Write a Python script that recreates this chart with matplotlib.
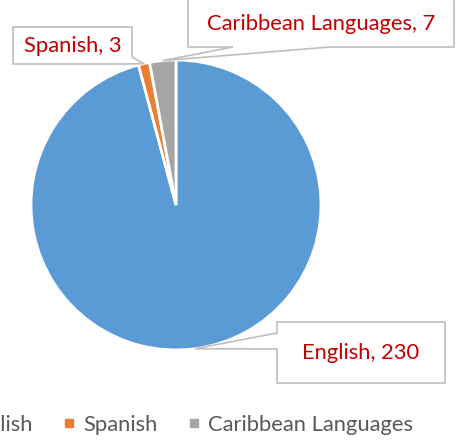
import numpy as np
import matplotlib
matplotlib.use("Agg")
import matplotlib.pyplot as plt
from matplotlib.patches import Polygon
from matplotlib.lines import Line2D

# data
languages = ["English", "Spanish", "Caribbean Languages"]
speakers = [230, 3, 7]
colors = ["#5B9BD5", "#ED7D31", "#A5A5A5"]

W, H = 457, 440
plt.rcParams['font.family'] = ['Lato', 'DejaVu Sans']

fig = plt.figure(figsize=(W / 100, H / 100), dpi=100)

# pie placed in pixel terms (y measured from top of image)
cx, cy, r = 176, 205, 145
ax = fig.add_axes([(cx - r) / W, (H - cy - r) / H, 2 * r / W, 2 * r / H])
wedges, _ = ax.pie(speakers, colors=colors, startangle=90, counterclock=False,
                   radius=1, wedgeprops=dict(edgecolor="white", linewidth=2))
ax.set_xlim(-1, 1)
ax.set_ylim(-1, 1)
ax.axis("off")


def img2fig(x, y):
    return (x / W, 1 - y / H)


def slice_tip(w):
    mid = np.deg2rad((w.theta1 + w.theta2) / 2)
    p = ax.transData.transform((np.cos(mid) * w.r, np.sin(mid) * w.r))
    return fig.transFigure.inverted().transform(p)


# callout boxes: (left, top, right, bottom) in image px, and where the pointer
# leaves the box outline
boxes = {
    "English": dict(box=(277, 322, 445, 383), side="left", base=(349, 333)),
    "Spanish": dict(box=(13, 27, 132, 64), side="corner", base=(57, 128)),
    "Caribbean Languages": dict(box=(188, -5, 454, 47), side="bottom", base=(330, 233)),
}

for w, name, val in zip(wedges, languages, speakers):
    b = boxes[name]
    x0, y0, x1, y1 = b["box"]
    tip = slice_tip(w)
    if b["side"] == "bottom":
        pts = [img2fig(x0, y0), img2fig(x1, y0), img2fig(x1, y1),
               img2fig(b["base"][0], y1), tip, img2fig(b["base"][1], y1),
               img2fig(x0, y1)]
    elif b["side"] == "left":
        pts = [img2fig(x0, y0), img2fig(x1, y0), img2fig(x1, y1),
               img2fig(x0, y1), img2fig(x0, b["base"][0]), tip,
               img2fig(x0, b["base"][1])]
    else:
        pts = [img2fig(x0, y0), img2fig(x1, y0), img2fig(x1, b["base"][0]),
               tip, img2fig(b["base"][1], y1), img2fig(x0, y1)]
    fig.add_artist(Polygon(pts, closed=True, transform=fig.transFigure,
                           facecolor="white", edgecolor="#BFBFBF", linewidth=1.2,
                           joinstyle="miter", zorder=3))
    tx, ty = img2fig((x0 + x1) / 2, (max(y0, 0) + y1) / 2)
    fig.text(tx, ty, f"{name}, {val}", color="#C00000", fontsize=15.8,
             ha="center", va="center", zorder=4)

handles = [Line2D([], [], linestyle="none", marker="s", markersize=5.5,
                  markerfacecolor=c, markeredgecolor=c) for c in colors]
fig.legend(handles, languages, loc="center", bbox_to_anchor=(179 / W, 1 - 425 / H),
           ncol=3, frameon=False, fontsize=15.8, labelcolor="#595959",
           handlelength=0.5, handletextpad=0.4, columnspacing=1.4)

fig.savefig("out.png", dpi=100)
